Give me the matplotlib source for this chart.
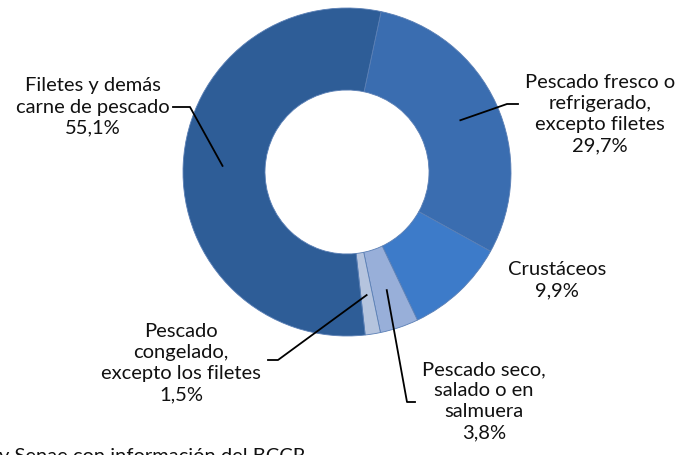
import numpy as np
import matplotlib
matplotlib.use("Agg")
import matplotlib.pyplot as plt

# Data (clockwise from the top)
categories = ["Pescado fresco o\nrefrigerado,\nexcepto filetes",
              "Crustáceos",
              "Pescado seco,\nsalado o en\nsalmuera",
              "Pescado\ncongelado,\nexcepto los filetes",
              "Filetes y demás\ncarne de pescado"]
shares = [29.7, 9.9, 3.8, 1.5, 55.1]
colors = ["#3A6DB0", "#3D7BC9", "#98AFD9", "#B5C4DE", "#2E5D97"]

# label layout in pixels (x, y from top), elbow and end of leader line
label_pos = [(600, 114), (557, 280), (484, 401), (181, 363), (93, 107)]
leader_end = [(518, 104), None, (415, 402), (268, 360), (173, 107)]
leader_elbow = [(507, 104), None, (407, 402), (278, 360), (190, 107)]

W, H = 678, 455
fig = plt.figure(figsize=(W / 100, H / 100), dpi=100)
ax = fig.add_axes([0, 0, 1, 1])

cx, cy, R = 347, H - 172, 164
start = 78
wedges, _ = ax.pie(shares, colors=colors, startangle=start, counterclock=False,
                   radius=R, center=(cx, cy), frame=True,
                   wedgeprops=dict(width=R * 0.5, edgecolor="#5a7fb5", linewidth=0.6))
ax.set_xlim(0, W)
ax.set_ylim(0, H)
ax.set_aspect("equal")
ax.axis("off")

font = "Lato"
fs = 14.5
cum = np.cumsum([0] + shares[:-1])
for i, (cat, val) in enumerate(zip(categories, shares)):
    lx, ly = label_pos[i]
    txt = f"{cat}\n{val:.1f}%".replace(".", ",")
    ax.text(lx, H - ly, txt, ha="center", va="center", fontsize=fs,
            family=font, linespacing=1.29, color="#111111")
    if leader_end[i] is not None:
        mid = start - (cum[i] + val / 2) * 3.6
        px = cx + 0.76 * R * np.cos(np.radians(mid))
        py = cy + 0.76 * R * np.sin(np.radians(mid))
        ex, ey = leader_end[i]
        bx, by = leader_elbow[i]
        ax.plot([ex, bx, px], [H - ey, H - by, py], color="black", lw=1.3)

ax.text(-1, H - 448, "y Senae con información del BCCR", ha="left", va="top",
        fontsize=fs, family=font, color="#111111")

fig.savefig("out.png", dpi=100)
